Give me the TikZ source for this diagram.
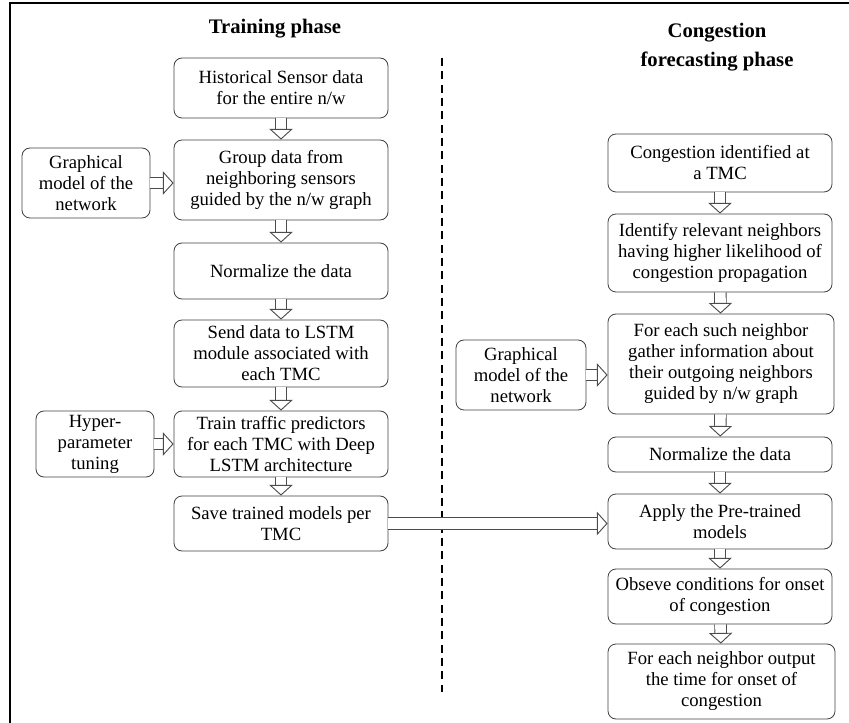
\documentclass[tikz,border=0pt]{standalone}
\usepackage{fontspec}
\setmainfont{Liberation Serif}
\usetikzlibrary{arrows.meta}

\tikzset{
  stepbox/.style={draw=black!75, rounded corners=6pt, align=center, line width=0.6pt,
    inner sep=2pt, font=\fontsize{14}{15.75}\selectfont},
  phasetitle/.style={align=center, font=\fontsize{15.5}{21.75}\selectfont\bfseries},
  hollow/.style={draw=black!70, double=white, double distance=8pt, line width=0.7pt,
    -{Triangle[open, length=8pt, width=17.5pt]}},
}

\begin{document}
\begin{tikzpicture}[x=0.75pt, y=-0.75pt]
\useasboundingbox (0,0) rectangle (849,723);
\clip (0,0) rectangle (849,723);
\draw[line width=1.4pt] (10,3) rectangle (870,740);

% titles
\node[phasetitle] (ttrain) at (275,29) {Training phase};
\node[phasetitle] (tcong) at (717,47) {Congestion\\forecasting phase};

% divider
\draw[line width=1.5pt, dash pattern=on 6pt off 4pt] (442,58) -- (442,692);

% training phase
\node[stepbox, minimum width=160.5pt, minimum height=45pt] (hist) at (281,88) {Historical Sensor data\\for the entire n/w};
\node[stepbox, minimum width=160.5pt, minimum height=60pt] (group) at (281,180) {Group data from\\neighboring sensors\\guided by the n/w graph};
\node[stepbox, minimum width=96pt, minimum height=52.5pt] (graphL) at (86,183) {Graphical\\model of the\\network};
\node[stepbox, minimum width=160.5pt, minimum height=42pt] (norm) at (281,271) {Normalize the data};
\node[stepbox, minimum width=160.5pt, minimum height=50.25pt] (send) at (281,353.5) {Send data to LSTM\\module associated with\\each TMC};
\node[stepbox, minimum width=160.5pt, minimum height=49.5pt] (train) at (281,444) {Train traffic predictors\\for each TMC with Deep\\LSTM architecture};
\node[stepbox, minimum width=88.5pt, minimum height=49.5pt] (hyper) at (95,444) {Hyper-\\parameter\\tuning};
\node[stepbox, minimum width=160.5pt, minimum height=41.25pt] (save) at (281,523.5) {Save trained models per\\TMC};

% forecasting phase
\node[stepbox, minimum width=168pt, minimum height=43.5pt] (cong) at (720,163) {Congestion identified at\\a TMC};
\node[stepbox, minimum width=168pt, minimum height=58.5pt] (ident) at (720,253) {Identify relevant neighbors\\having higher likelihood of\\congestion propagation};
\node[stepbox, minimum width=169.5pt, minimum height=75pt] (gather) at (721,364) {For each such neighbor\\gather information about\\their outgoing neighbors\\guided by n/w graph};
\node[stepbox, minimum width=97.5pt, minimum height=52.5pt] (graphR) at (521,375) {Graphical\\model of the\\network};
\node[stepbox, minimum width=168pt, minimum height=26.25pt] (normR) at (720,454.5) {Normalize the data};
\node[stepbox, minimum width=168pt, minimum height=41.25pt] (apply) at (720,521.5) {Apply the Pre-trained\\models};
\node[stepbox, minimum width=168pt, minimum height=41.25pt] (obs) at (720,596.5) {Obseve conditions for onset\\of congestion};
\node[stepbox, minimum width=170.25pt, minimum height=56.25pt] (onset) at (721.5,681.5) {For each neighbor output\\the time for onset of\\congestion};

% arrows
\draw[hollow] (hist) -- (group);
\draw[hollow] (group) -- (norm);
\draw[hollow] (norm) -- (send);
\draw[hollow] (send) -- (train);
\draw[hollow] (train) -- (save);
\draw[hollow] (graphL.east) -- (graphL.east -| group.west);
\draw[hollow] (hyper) -- (train);
\draw[hollow] (save.east) -- (save.east -| apply.west);
\draw[hollow] (cong) -- (ident);
\draw[hollow] (ident) -- (gather);
\draw[hollow] (graphR.east) -- (graphR.east -| gather.west);
\draw[hollow] (gather) -- (normR);
\draw[hollow] (normR) -- (apply);
\draw[hollow] (apply) -- (obs);
\draw[hollow] (obs) -- (onset);
\end{tikzpicture}
\end{document}
